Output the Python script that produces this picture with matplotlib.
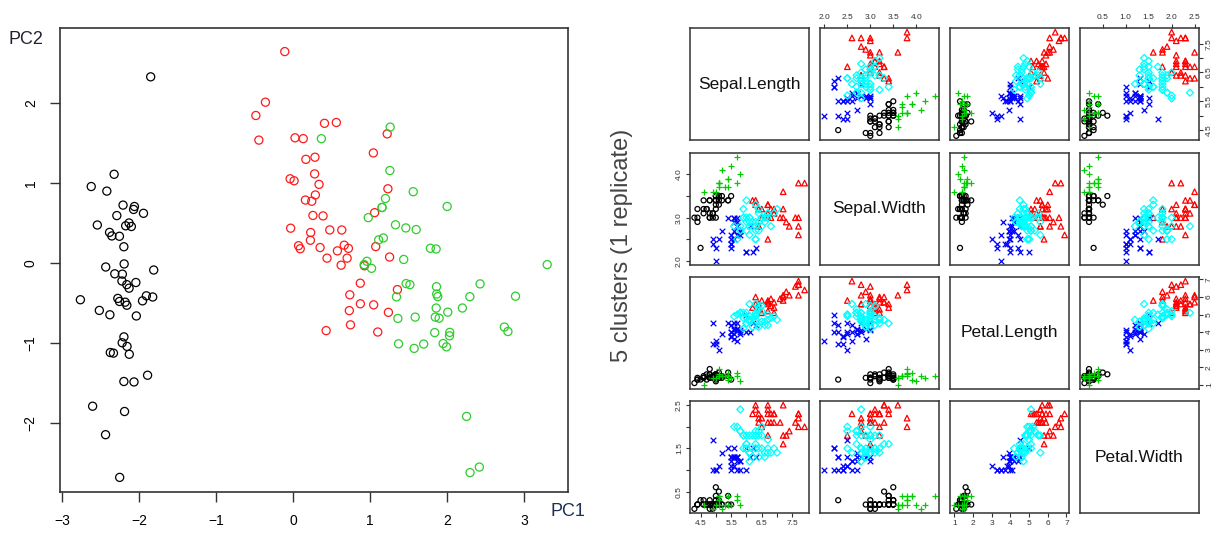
import numpy as np
import matplotlib
matplotlib.use('Agg')
import matplotlib.pyplot as plt

plt.rcParams['font.family'] = ['Liberation Sans', 'DejaVu Sans']

# iris measurements (setosa 1-50, versicolor 51-100, virginica 101-150)
sepal_length = [5.1, 4.9, 4.7, 4.6, 5.0, 5.4, 4.6, 5.0, 4.4, 4.9, 5.4, 4.8, 4.8, 4.3, 5.8, 5.7, 5.4, 5.1, 5.7, 5.1,
                5.4, 5.1, 4.6, 5.1, 4.8, 5.0, 5.0, 5.2, 5.2, 4.7, 4.8, 5.4, 5.2, 5.5, 4.9, 5.0, 5.5, 4.9, 4.4, 5.1,
                5.0, 4.5, 4.4, 5.0, 5.1, 4.8, 5.1, 4.6, 5.3, 5.0,
                7.0, 6.4, 6.9, 5.5, 6.5, 5.7, 6.3, 4.9, 6.6, 5.2, 5.0, 5.9, 6.0, 6.1, 5.6, 6.7, 5.6, 5.8, 6.2, 5.6,
                5.9, 6.1, 6.3, 6.1, 6.4, 6.6, 6.8, 6.7, 6.0, 5.7, 5.5, 5.5, 5.8, 6.0, 5.4, 6.0, 6.7, 6.3, 5.6, 5.5,
                5.5, 6.1, 5.8, 5.0, 5.6, 5.7, 5.7, 6.2, 5.1, 5.7,
                6.3, 5.8, 7.1, 6.3, 6.5, 7.6, 4.9, 7.3, 6.7, 7.2, 6.5, 6.4, 6.8, 5.7, 5.8, 6.4, 6.5, 7.7, 7.7, 6.0,
                6.9, 5.6, 7.7, 6.3, 6.7, 7.2, 6.2, 6.1, 6.4, 7.2, 7.4, 7.9, 6.4, 6.3, 6.1, 7.7, 6.3, 6.4, 6.0, 6.9,
                6.7, 6.9, 5.8, 6.8, 6.7, 6.7, 6.3, 6.5, 6.2, 5.9]
sepal_width = [3.5, 3.0, 3.2, 3.1, 3.6, 3.9, 3.4, 3.4, 2.9, 3.1, 3.7, 3.4, 3.0, 3.0, 4.0, 4.4, 3.9, 3.5, 3.8, 3.8,
               3.4, 3.7, 3.6, 3.3, 3.4, 3.0, 3.4, 3.5, 3.4, 3.2, 3.1, 3.4, 4.1, 4.2, 3.1, 3.2, 3.5, 3.6, 3.0, 3.4,
               3.5, 2.3, 3.2, 3.5, 3.8, 3.0, 3.8, 3.2, 3.7, 3.3,
               3.2, 3.2, 3.1, 2.3, 2.8, 2.8, 3.3, 2.4, 2.9, 2.7, 2.0, 3.0, 2.2, 2.9, 2.9, 3.1, 3.0, 2.7, 2.2, 2.5,
               3.2, 2.8, 2.5, 2.8, 2.9, 3.0, 2.8, 3.0, 2.9, 2.6, 2.4, 2.4, 2.7, 2.7, 3.0, 3.4, 3.1, 2.3, 3.0, 2.5,
               2.6, 3.0, 2.6, 2.3, 2.7, 3.0, 2.9, 2.9, 2.5, 2.8,
               3.3, 2.7, 3.0, 2.9, 3.0, 3.0, 2.5, 2.9, 2.5, 3.6, 3.2, 2.7, 3.0, 2.5, 2.8, 3.2, 3.0, 3.8, 2.6, 2.2,
               3.2, 2.8, 2.8, 2.7, 3.3, 3.2, 2.8, 3.0, 2.8, 3.0, 2.8, 3.8, 2.8, 2.8, 2.6, 3.0, 3.4, 3.1, 3.0, 3.1,
               3.1, 3.1, 2.7, 3.2, 3.3, 3.0, 2.5, 3.0, 3.4, 3.0]
petal_length = [1.4, 1.4, 1.3, 1.5, 1.4, 1.7, 1.4, 1.5, 1.4, 1.5, 1.5, 1.6, 1.4, 1.1, 1.2, 1.5, 1.3, 1.4, 1.7, 1.5,
                1.7, 1.5, 1.0, 1.7, 1.9, 1.6, 1.6, 1.5, 1.4, 1.6, 1.6, 1.5, 1.5, 1.4, 1.5, 1.2, 1.3, 1.4, 1.3, 1.5,
                1.3, 1.3, 1.3, 1.6, 1.9, 1.4, 1.6, 1.4, 1.5, 1.4,
                4.7, 4.5, 4.9, 4.0, 4.6, 4.5, 4.7, 3.3, 4.6, 3.9, 3.5, 4.2, 4.0, 4.7, 3.6, 4.4, 4.5, 4.1, 4.5, 3.9,
                4.8, 4.0, 4.9, 4.7, 4.3, 4.4, 4.8, 5.0, 4.5, 3.5, 3.8, 3.7, 3.9, 5.1, 4.5, 4.5, 4.7, 4.4, 4.1, 4.0,
                4.4, 4.6, 4.0, 3.3, 4.2, 4.2, 4.2, 4.3, 3.0, 4.1,
                6.0, 5.1, 5.9, 5.6, 5.8, 6.6, 4.5, 6.3, 5.8, 6.1, 5.1, 5.3, 5.5, 5.0, 5.1, 5.3, 5.5, 6.7, 6.9, 5.0,
                5.7, 4.9, 6.7, 4.9, 5.7, 6.0, 4.8, 4.9, 5.6, 5.8, 6.1, 6.4, 5.6, 5.1, 5.6, 6.1, 5.6, 5.5, 4.8, 5.4,
                5.6, 5.1, 5.1, 5.9, 5.7, 5.2, 5.0, 5.2, 5.4, 5.1]
petal_width = [0.2, 0.2, 0.2, 0.2, 0.2, 0.4, 0.3, 0.2, 0.2, 0.1, 0.2, 0.2, 0.1, 0.1, 0.2, 0.4, 0.4, 0.3, 0.3, 0.3,
               0.2, 0.4, 0.2, 0.5, 0.2, 0.2, 0.4, 0.2, 0.2, 0.2, 0.2, 0.4, 0.1, 0.2, 0.2, 0.2, 0.2, 0.1, 0.2, 0.2,
               0.3, 0.3, 0.2, 0.6, 0.4, 0.3, 0.2, 0.2, 0.2, 0.2,
               1.4, 1.5, 1.5, 1.3, 1.5, 1.3, 1.6, 1.0, 1.3, 1.4, 1.0, 1.5, 1.0, 1.4, 1.3, 1.4, 1.5, 1.0, 1.5, 1.1,
               1.8, 1.3, 1.5, 1.2, 1.3, 1.4, 1.4, 1.7, 1.5, 1.0, 1.1, 1.0, 1.2, 1.6, 1.5, 1.6, 1.5, 1.3, 1.3, 1.3,
               1.2, 1.4, 1.2, 1.0, 1.3, 1.2, 1.3, 1.3, 1.1, 1.3,
               2.5, 1.9, 2.1, 1.8, 2.2, 2.1, 1.7, 1.8, 1.8, 2.5, 2.0, 1.9, 2.1, 2.0, 2.4, 2.3, 1.8, 2.2, 2.3, 1.5,
               2.3, 2.0, 2.0, 1.8, 2.1, 1.8, 1.8, 1.8, 2.1, 1.6, 1.9, 2.0, 2.2, 1.5, 1.4, 2.3, 2.4, 1.8, 1.8, 2.1,
               2.4, 2.3, 1.9, 2.3, 2.5, 2.3, 1.9, 2.0, 2.3, 1.8]
species = [1] * 50 + [2] * 50 + [3] * 50
# cluster of each flower in the pairs plot (1 black, 2 red, 3 green, 4 blue, 5 cyan)
clusters = [1, 1, 1, 1, 3, 3, 1, 1, 1, 1, 3, 1, 1, 1, 3, 3, 3, 1, 3, 3,
            1, 3, 3, 1, 1, 1, 1, 1, 1, 1, 1, 1, 3, 3, 1, 1, 1, 3, 1, 1,
            1, 1, 1, 1, 3, 1, 3, 1, 3, 1,
            5, 5, 5, 4, 5, 4, 5, 4, 5, 4, 4, 5, 4, 5, 4, 5, 4, 4, 4, 4,
            5, 4, 5, 5, 5, 5, 5, 5, 5, 4, 4, 4, 4, 5, 4, 5, 5, 4, 4, 4,
            4, 5, 4, 4, 4, 4, 4, 5, 4, 4,
            2, 5, 2, 5, 2, 2, 4, 2, 2, 2, 2, 5, 2, 5, 5, 2, 5, 2, 2, 4,
            2, 5, 2, 5, 2, 2, 5, 5, 2, 2, 2, 2, 2, 5, 5, 2, 2, 5, 5, 2,
            2, 2, 5, 2, 2, 2, 5, 5, 2, 5]
var_names = ['Sepal.Length', 'Sepal.Width', 'Petal.Length', 'Petal.Width']

X = np.column_stack([sepal_length, sepal_width, petal_length, petal_width])

# principal components of the standardised measurements
Z = (X - X.mean(0)) / X.std(0, ddof=1)
U, S, Vt = np.linalg.svd(Z, full_matrices=False)
scores = Z @ Vt.T
pc1 = scores[:, 0]
pc2 = scores[:, 1]
if pc1[:50].mean() > 0:
    pc1 = -pc1
if pc2[60] < 0:
    pc2 = -pc2

W, H = 1227, 539
fig = plt.figure(figsize=(W / 100, H / 100), dpi=100)
edge = '#333333'

# left: PCA scatter coloured by species
axl = fig.add_axes([60 / W, 1 - 492 / H, 508 / W, 464 / H])
sp_colors = {1: 'black', 2: '#FF1A1A', 3: '#2ECC2E'}
sp = np.array(species)
for k in [1, 2, 3]:
    m = sp == k
    axl.scatter(pc1[m], pc2[m], s=34, facecolors='none', edgecolors=sp_colors[k], linewidths=0.9)
axl.set_xlim(-3.03, 3.57)
axl.set_ylim(-2.86, 2.94)
axl.set_xticks([-3, -2, -1, 0, 1, 2, 3])
axl.set_yticks([-2, -1, 0, 1, 2])
axl.tick_params(length=7, width=1, color=edge, labelsize=10, pad=9)
for t in axl.get_yticklabels():
    t.set_rotation(90)
    t.set_va('center')
for s in axl.spines.values():
    s.set_color(edge)
    s.set_linewidth(1.2)
fig.text(9 / W, 1 - 40 / H, 'PC2', fontsize=13, color='#222233', va='center')
fig.text(550 / W, 1 - 512 / H, 'PC1', fontsize=13, color='#1c2f55', va='center')

# right: pairs plot of the five clusters
cl_style = {1: ('black', 'o', 13), 2: ('red', '^', 16), 3: ('#00CD00', '+', 18),
            4: ('blue', 'x', 16), 5: ('cyan', 'D', 13)}
cl = np.array(clusters)
cols_x = [690, 820, 950, 1080]
rows_y = [28, 153, 277, 401]
pw, ph = 119, 112
ticks = [[4.5, 5.0, 5.5, 6.0, 6.5, 7.0, 7.5],
         [2.0, 2.5, 3.0, 3.5, 4.0],
         [1, 2, 3, 4, 5, 6, 7],
         [0.5, 1.0, 1.5, 2.0, 2.5]]
labels_long = [['4.5', '', '5.5', '', '6.5', '', '7.5'],
               ['2.0', '2.5', '3.0', '3.5', '4.0'],
               ['1', '2', '3', '4', '5', '6', '7'],
               ['0.5', '1.0', '1.5', '2.0', '2.5']]
labels_short = [['4.5', '', '5.5', '', '6.5', '', '7.5'],
                ['2.0', '', '3.0', '', '4.0'],
                ['1', '2', '3', '4', '5', '6', '7'],
                ['0.5', '', '1.5', '', '2.5']]
lims = []
for v in range(4):
    lo, hi = X[:, v].min(), X[:, v].max()
    pad = 0.04 * (hi - lo)
    lims.append((lo - pad, hi + pad))

for i in range(4):
    for j in range(4):
        ax = fig.add_axes([cols_x[j] / W, 1 - (rows_y[i] + ph) / H, pw / W, ph / H])
        for s in ax.spines.values():
            s.set_color(edge)
            s.set_linewidth(1.1)
        ax.set_xlim(lims[j])
        ax.set_ylim(lims[i])
        ax.set_xticks([])
        ax.set_yticks([])
        if i == j:
            ax.text(0.5, 0.5, var_names[i], transform=ax.transAxes, ha='center', va='center',
                    fontsize=12.5, color='#111111')
        else:
            for k in [1, 2, 3, 4, 5]:
                m = cl == k
                c, mk, sz = cl_style[k]
                if mk in ('+', 'x'):
                    ax.scatter(X[m, j], X[m, i], s=sz, c=c, marker=mk, linewidths=0.9)
                else:
                    ax.scatter(X[m, j], X[m, i], s=sz, facecolors='none',
                               edgecolors=c, marker=mk, linewidths=0.9)
        tkw = dict(length=3, width=0.8, color=edge, labelsize=6, pad=2, labelcolor='#333333')
        if i == 0 and j % 2 == 1:
            ax.set_xticks(ticks[j])
            ax.set_xticklabels(labels_long[j])
            ax.xaxis.tick_top()
            ax.tick_params(axis='x', **tkw)
        if i == 3 and j % 2 == 0:
            ax.set_xticks(ticks[j])
            ax.set_xticklabels(labels_short[j] if j == 0 else labels_long[j])
            ax.tick_params(axis='x', **tkw)
        if j == 0 and i % 2 == 1:
            ax.set_yticks(ticks[i])
            ax.set_yticklabels(labels_short[i], rotation=90, va='center')
            ax.tick_params(axis='y', **tkw)
        if j == 3 and i % 2 == 0:
            ax.set_yticks(ticks[i])
            ax.set_yticklabels(labels_short[i] if i == 0 else labels_long[i], rotation=90, va='center')
            ax.yaxis.tick_right()
            ax.tick_params(axis='y', **tkw)

fig.text(622 / W, 1 - 245 / H, '5 clusters (1 replicate)', rotation=90, fontsize=17,
         color='#444444', ha='center', va='center')

fig.savefig('out.png', dpi=100)
